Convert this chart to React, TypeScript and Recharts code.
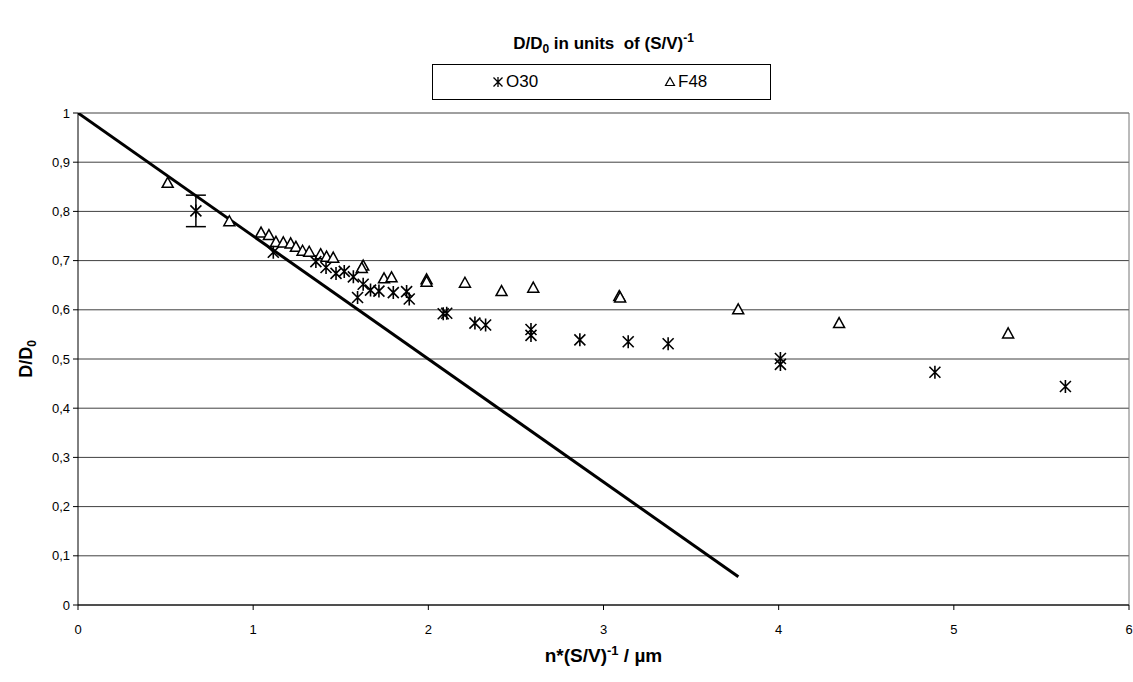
import React from "react";
import { CartesianGrid, ErrorBar, Legend, ReferenceLine, Scatter, ScatterChart, XAxis, YAxis } from "recharts";

// O30 (star markers)
const o30X = [1.115, 1.358, 1.416, 1.473, 1.52, 1.572, 1.628, 1.596, 1.67, 1.718, 1.8, 1.876, 1.891, 2.085, 2.105, 2.266, 2.327, 2.586, 2.586, 2.865, 3.141, 3.369, 4.01, 4.01, 4.892, 5.637];
const o30Y = [0.717, 0.698, 0.686, 0.674, 0.678, 0.667, 0.652, 0.625, 0.64, 0.638, 0.635, 0.637, 0.622, 0.592, 0.593, 0.573, 0.569, 0.56, 0.548, 0.539, 0.535, 0.531, 0.501, 0.489, 0.473, 0.444];

// the one O30 point with an error bar
const o30ErrX = [0.673];
const o30ErrY = [0.801];
const o30ErrVal = [0.032];

// F48 (triangles)
const f48X = [0.512, 0.864, 1.045, 1.09, 1.13, 1.172, 1.214, 1.244, 1.282, 1.32, 1.385, 1.419, 1.457, 1.628, 1.62, 1.747, 1.79, 1.99, 1.99, 2.209, 2.418, 2.599, 3.09, 3.095, 3.769, 4.345, 5.31];
const f48Y = [0.858, 0.78, 0.757, 0.752, 0.738, 0.737, 0.735, 0.728, 0.72, 0.718, 0.713, 0.708, 0.706, 0.69, 0.685, 0.664, 0.666, 0.662, 0.657, 0.655, 0.638, 0.645, 0.628, 0.625, 0.601, 0.573, 0.552];

// straight line 1 - n*(S/V)^-1 / 4
const fitX = [0, 3.77];
const fitY = [1, 0.0575];

const xTicks = [0, 1, 2, 3, 4, 5, 6];
const yTicks = [0, 0.1, 0.2, 0.3, 0.4, 0.5, 0.6, 0.7, 0.8, 0.9, 1];

const FONT = "Arial, 'Liberation Sans', sans-serif";

const o30 = o30X.map((x, i) => ({ x, y: o30Y[i] }));
const o30Err = o30ErrX.map((x, i) => ({ x, y: o30ErrY[i], err: o30ErrVal[i] }));
const f48 = f48X.map((x, i) => ({ x, y: f48Y[i] }));
const fit = fitX.map((x, i) => ({ x, y: fitY[i] }));

const Star = (props: any) => {
  const { cx, cy } = props;
  return (
    <path
      d={`M${cx},${cy - 6.5}L${cx},${cy + 6.5}M${cx - 5.5},${cy - 5.5}L${cx + 5.5},${cy + 5.5}M${cx - 5.5},${cy + 5.5}L${cx + 5.5},${cy - 5.5}`}
      stroke="#000"
      strokeWidth={1.6}
      fill="none"
    />
  );
};

const Triangle = (props: any) => {
  const { cx, cy } = props;
  return (
    <path
      d={`M${cx},${cy - 5.5}L${cx + 5.5},${cy + 4.5}L${cx - 5.5},${cy + 4.5}Z`}
      stroke="#000"
      strokeWidth={1.5}
      fill="#fff"
    />
  );
};

const NoDot = () => <g />;

const SmallStar = (props: any) => {
  const { cx, cy } = props;
  return (
    <path
      d={`M${cx},${cy - 5}L${cx},${cy + 5}M${cx - 4.5},${cy - 4.5}L${cx + 4.5},${cy + 4.5}M${cx - 4.5},${cy + 4.5}L${cx + 4.5},${cy - 4.5}`}
      stroke="#000"
      strokeWidth={1.3}
      fill="none"
    />
  );
};

const SmallTriangle = (props: any) => {
  const { cx, cy } = props;
  return (
    <path d={`M${cx},${cy - 4.5}L${cx + 4.5},${cy + 3.5}L${cx - 4.5},${cy + 3.5}Z`} stroke="#000" strokeWidth={1.2} fill="#fff" />
  );
};

const LegendBox = () => (
  <div
    style={{
      position: "relative",
      width: 339,
      height: 36,
      boxSizing: "border-box",
      border: "1px solid #000",
      background: "#fff",
      fontFamily: FONT,
      fontSize: 17,
      color: "#000",
    }}
  >
    <svg width={14} height={14} style={{ position: "absolute", left: 58, top: 10 }}>
      <SmallStar cx={7} cy={7} />
    </svg>
    <span style={{ position: "absolute", left: 73, top: 6, lineHeight: "22px" }}>O30</span>
    <svg width={14} height={14} style={{ position: "absolute", left: 230, top: 10 }}>
      <SmallTriangle cx={7} cy={7} />
    </svg>
    <span style={{ position: "absolute", left: 245, top: 6, lineHeight: "22px" }}>F48</span>
  </div>
);

const fmt = (v: number) => String(Math.round(v * 10) / 10).replace(".", ",");

export default function App() {
  return (
    <div style={{ position: "absolute", left: 0, top: 0, width: 1133, height: 682, background: "#fff", fontFamily: FONT }}>
      <div
        style={{
          position: "absolute",
          left: 78,
          top: 26,
          width: 1051,
          textAlign: "center",
          fontSize: 17,
          lineHeight: "24px",
          fontWeight: "bold",
        }}
      >
        D/D<sub style={{ fontSize: 12 }}>0</sub> in units&nbsp; of (S/V)<sup style={{ fontSize: 12 }}>-1</sup>
      </div>

      <ScatterChart width={1133} height={682} margin={{ top: 113, right: 4, bottom: 37, left: 8 }}>
        <CartesianGrid vertical={false} stroke="#404040" strokeWidth={1} />
        <XAxis
          type="number"
          dataKey="x"
          domain={[0, 6]}
          ticks={xTicks}
          height={40}
          tickSize={5}
          tickMargin={15}
          stroke="#000"
          tick={{ fill: "#000", fontSize: 13, fontFamily: FONT }}
          allowDataOverflow
        />
        <YAxis
          type="number"
          dataKey="y"
          domain={[0, 1]}
          ticks={yTicks}
          width={70}
          tickSize={5}
          tickMargin={3}
          stroke="#000"
          tickFormatter={fmt}
          tick={{ fill: "#000", fontSize: 13, fontFamily: FONT }}
          allowDataOverflow
        />
        <ReferenceLine x={6} stroke="#777" />
        <Legend
          content={<LegendBox />}
          layout="horizontal"
          verticalAlign="middle"
          align="center"
          wrapperStyle={{ left: 432, top: 64, width: 339, height: 36 }}
        />
        <Scatter name="fit" data={fit} line={{ stroke: "#000", strokeWidth: 3 }} shape={NoDot} legendType="none" isAnimationActive={false} />
        <Scatter name="F48" data={f48} shape={Triangle} isAnimationActive={false} />
        <Scatter name="O30" data={o30} shape={Star} isAnimationActive={false} />
        <Scatter name="O30 err" data={o30Err} shape={Star} legendType="none" isAnimationActive={false}>
          <ErrorBar dataKey="err" direction="y" width={10} stroke="#000" strokeWidth={1.5} />
        </Scatter>
      </ScatterChart>

      <div style={{ position: "absolute", left: 0, top: 359, width: 0, height: 0 }}>
        <div
          style={{
            position: "absolute",
            left: 29,
            top: 0,
            transform: "translate(-50%, -50%) rotate(-90deg)",
            fontSize: 18,
            fontWeight: "bold",
            whiteSpace: "nowrap",
            lineHeight: "22px",
          }}
        >
          D/D<sub style={{ fontSize: 12 }}>0</sub>
        </div>
      </div>

      <div
        style={{
          position: "absolute",
          left: 78,
          top: 638,
          width: 1051,
          textAlign: "center",
          fontSize: 19,
          fontWeight: "bold",
          lineHeight: "26px",
        }}
      >
        n*(S/V)<sup style={{ fontSize: 13 }}>-1</sup> / µm
      </div>
    </div>
  );
}
